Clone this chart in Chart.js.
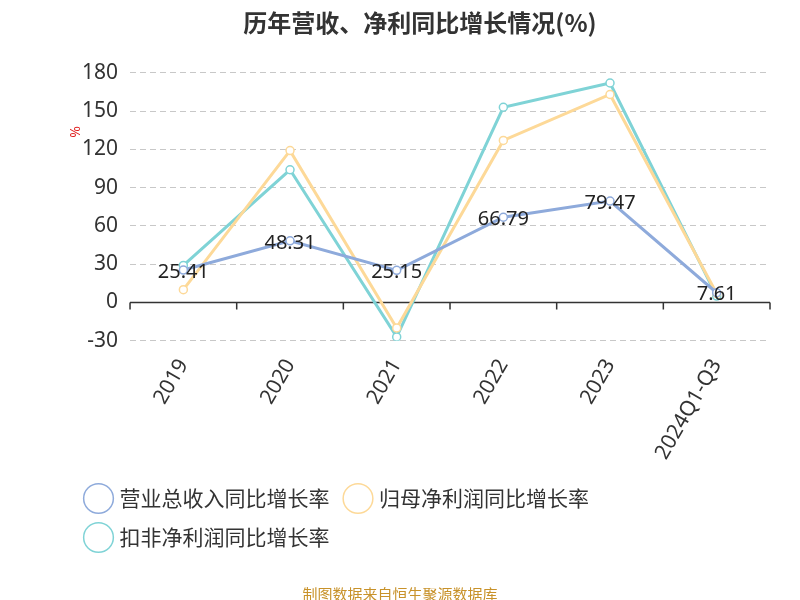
<!DOCTYPE html>
<html>
<head>
<meta charset="utf-8">
<script src="https://cdn.jsdelivr.net/npm/chart.js@4"></script>
<style>
  body { margin: 0; background: #fff; }
  #wrap { position: relative; width: 800px; height: 600px; }
</style>
</head>
<body>
<div id="wrap"><canvas id="chart" width="800" height="600"></canvas></div>
<script>
// ====================================================
// Chart data
// ====================================================
const categories = ['2019', '2020', '2021', '2022', '2023', '2024Q1-Q3'];
const revenueGrowth = [25.41, 48.31, 25.15, 66.79, 79.47, 7.61];
const netProfitGrowth = [10, 119, -20, 127, 163, 7];
const deductedProfitGrowth = [29, 104, -27, 153, 172, 5];
const yTicks = [-30, 0, 30, 60, 90, 120, 150, 180];

const FONT = '"Noto Sans", "Noto Sans CJK SC", sans-serif';

// Zero axis line with boundary ticks, drawn under the lines
const zeroAxis = {
    id: 'zeroAxis',
    beforeDatasetsDraw(chart) {
        const ctx = chart.ctx;
        const area = chart.chartArea;
        const y0 = chart.scales.y.getPixelForValue(0);
        const step = (area.right - area.left) / categories.length;
        ctx.save();
        ctx.strokeStyle = '#333';
        ctx.lineWidth = 1.5;
        ctx.beginPath();
        ctx.moveTo(area.left, y0);
        ctx.lineTo(area.right, y0);
        for (let i = 0; i <= categories.length; i++) {
            const x = area.left + step * i;
            ctx.moveTo(x, y0);
            ctx.lineTo(x, y0 + 7);
        }
        ctx.stroke();
        ctx.restore();
    }
};

// Value labels for the first series only, plus the unit
const valueLabels = {
    id: 'valueLabels',
    afterDatasetsDraw(chart) {
        const ctx = chart.ctx;
        const meta = chart.getDatasetMeta(0);
        ctx.save();
        ctx.font = '20px ' + FONT;
        ctx.fillStyle = '#222';
        ctx.textAlign = 'center';
        ctx.textBaseline = 'bottom';
        meta.data.forEach((pt, i) => {
            ctx.fillText(revenueGrowth[i].toFixed(2), pt.x, pt.y + 12);
        });
        ctx.fillStyle = '#e02020';
        ctx.font = '14px ' + FONT;
        ctx.translate(76, 132);
        ctx.rotate(-Math.PI / 2);
        ctx.textAlign = 'center';
        ctx.textBaseline = 'middle';
        ctx.fillText('%', 0, 0);
        ctx.restore();
    }
};

const footer = {
    id: 'footer',
    afterDraw(chart) {
        const ctx = chart.ctx;
        ctx.save();
        ctx.font = '15px "Noto Sans CJK SC", sans-serif';
        ctx.fillStyle = '#c8922a';
        ctx.textAlign = 'center';
        ctx.fillText('制图数据来自恒生聚源数据库', 400, 594);
        ctx.restore();
    }
};

function series(label, data, color) {
    return {
        label: label,
        data: data,
        borderColor: color,
        backgroundColor: '#fff',
        pointBorderColor: color,
        pointBackgroundColor: '#fff',
        borderWidth: 3,
        pointRadius: 4,
        pointBorderWidth: 1.5,
        tension: 0
    };
}

new Chart(document.getElementById('chart'), {
    type: 'line',
    data: {
        labels: categories,
        datasets: [
            series('营业总收入同比增长率', revenueGrowth, '#8eaadb'),
            series('归母净利润同比增长率', netProfitGrowth, '#fdd998'),
            series('扣非净利润同比增长率', deductedProfitGrowth, '#7fd3d6')
        ]
    },
    options: {
        responsive: false,
        animation: false,
        layout: { padding: { left: 70, right: 30, top: 8, bottom: 42 } },
        plugins: {
            title: {
                display: true,
                text: '历年营收、净利同比增长情况(%)',
                font: { family: '"Noto Sans CJK SC", sans-serif', size: 24, weight: 'bold' },
                color: '#333',
                padding: { top: 0, bottom: 36 }
            },
            legend: {
                position: 'bottom',
                align: 'start',
                labels: {
                    usePointStyle: true,
                    pointStyle: 'circle',
                    boxWidth: 22,
                    boxHeight: 22,
                    padding: 18,
                    font: { family: '"Noto Sans CJK SC", sans-serif', size: 21 },
                    color: '#333'
                }
            },
            tooltip: { enabled: false }
        },
        scales: {
            x: {
                offset: true,
                grid: { display: false },
                border: { display: false },
                ticks: {
                    maxRotation: 60, minRotation: 60,
                    padding: 6,
                    font: { family: FONT, size: 21 },
                    color: '#333'
                }
            },
            y: {
                min: -30, max: 180,
                afterBuildTicks(axis) { axis.ticks = yTicks.map(v => ({ value: v })); },
                grid: { color: '#c8c8c8', drawTicks: false },
                border: { display: false, dash: [6, 4] },
                ticks: {
                    padding: 12,
                    font: { family: FONT, size: 21 },
                    color: '#333'
                }
            }
        }
    },
    plugins: [zeroAxis, valueLabels, footer]
});
</script>
</body>
</html>
